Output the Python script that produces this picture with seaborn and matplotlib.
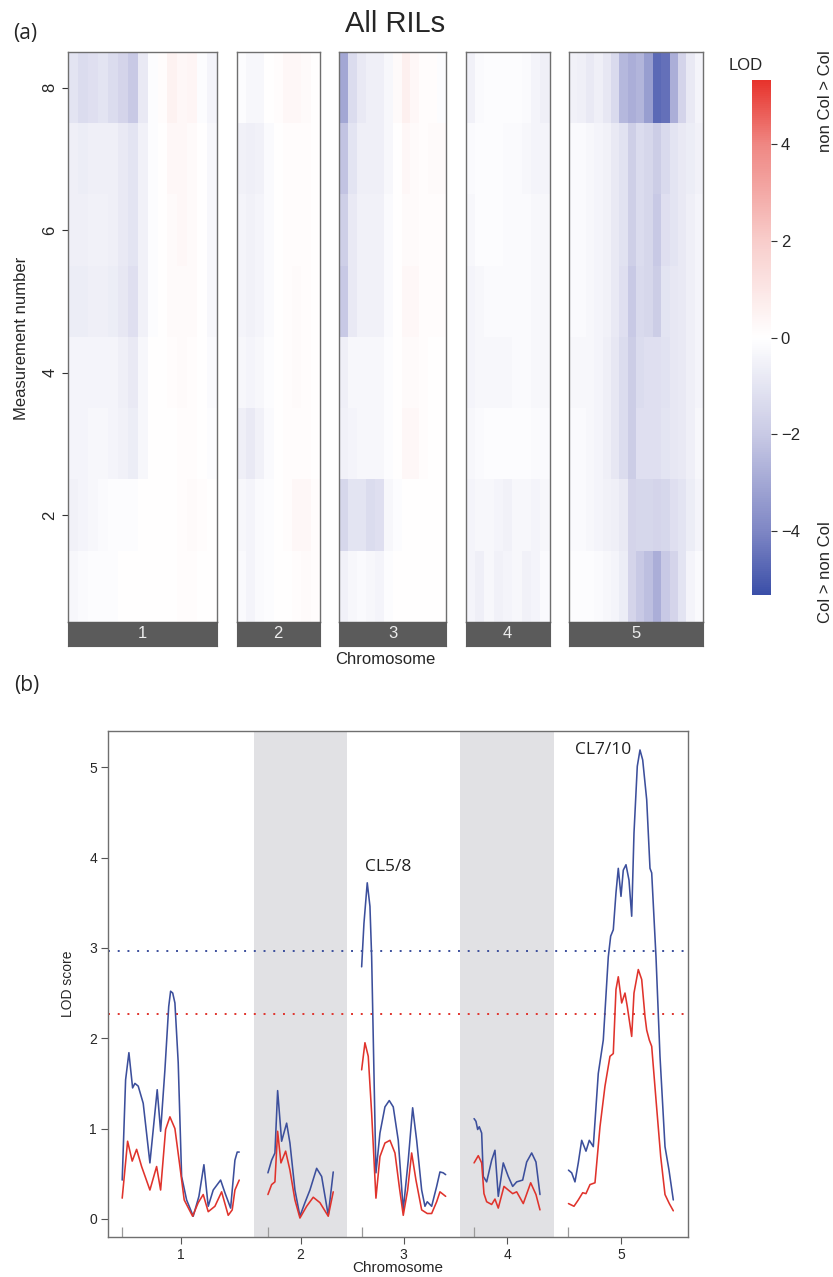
import numpy as np
import pandas as pd
import matplotlib
matplotlib.use("Agg")
import matplotlib.pyplot as plt
import seaborn as sns
from matplotlib.colors import LinearSegmentedColormap

# ---------------------------------------------------------------- data
chrom_names = ["1", "2", "3", "4", "5"]
chrom_len_cm = [117.3, 65.3, 84.0, 66.0, 105.3]
chrom_gap_cm = 28.4
measurement_numbers = [8, 7, 6, 5, 4, 3, 2, 1]   # heatmap rows, top to bottom

# signed LOD per measurement (rows 8..1) along each chromosome
heat_chr1 = [
    [-1.0, -1.3, -1.2, -1.0, -1.3, -1.6, -2.0, -0.8, -0.1, 0.1, 0.5, 0.3, 0.4, -0.1, -0.4],
    [-0.6, -0.7, -0.6, -0.6, -0.6, -0.8, -1.0, -0.5, -0.1, 0.0, 0.3, 0.3, 0.2, 0.0, -0.3],
    [-0.6, -0.6, -0.5, -0.5, -0.6, -0.8, -1.0, -0.5, -0.1, 0.0, 0.2, 0.3, 0.2, 0.0, -0.3],
    [-0.7, -0.7, -0.6, -0.6, -0.7, -0.9, -1.2, -0.5, -0.1, 0.0, 0.2, 0.2, 0.2, 0.0, -0.3],
    [-0.4, -0.4, -0.4, -0.4, -0.4, -0.6, -0.8, -0.3, 0.0, 0.0, 0.1, 0.2, 0.1, 0.0, -0.2],
    [-0.4, -0.4, -0.3, -0.3, -0.4, -0.5, -0.7, -0.3, 0.0, 0.0, 0.0, 0.1, 0.1, 0.0, -0.1],
    [-0.5, -0.4, -0.3, -0.2, -0.1, -0.1, -0.1, 0.0, 0.0, 0.0, 0.0, 0.1, 0.2, 0.1, 0.0],
    [-0.3, -0.2, -0.1, -0.1, -0.1, 0.0, 0.0, 0.0, 0.0, 0.0, 0.0, 0.1, 0.1, 0.0, 0.0],
]
heat_chr2 = [
    [-0.1, -0.3, -0.3, 0.0, 0.1, 0.3, 0.3, 0.2, 0.0],
    [-0.5, -0.6, -0.5, -0.2, 0.0, 0.1, 0.1, 0.1, 0.0],
    [-0.4, -0.5, -0.4, -0.2, 0.0, 0.1, 0.1, 0.1, 0.0],
    [-0.4, -0.5, -0.4, -0.2, 0.0, 0.1, 0.2, 0.1, 0.0],
    [-0.3, -0.4, -0.3, -0.1, 0.0, 0.1, 0.2, 0.1, 0.0],
    [-0.6, -0.8, -0.5, -0.2, 0.0, 0.1, 0.1, 0.1, 0.0],
    [-0.3, -0.4, -0.2, -0.1, 0.0, 0.1, 0.3, 0.3, 0.1],
    [-0.2, -0.4, -0.2, -0.1, 0.0, 0.0, 0.1, 0.2, 0.1],
]
heat_chr3 = [
    [-3.0, -1.3, -0.8, -0.6, -0.6, -0.3, 0.2, 0.6, 0.3, 0.1, 0.1, -0.1],
    [-2.2, -1.0, -0.6, -0.6, -0.6, -0.3, 0.0, 0.3, 0.2, 0.1, 0.2, 0.2],
    [-1.8, -0.8, -0.5, -0.5, -0.5, -0.2, 0.0, 0.2, 0.2, 0.1, 0.1, 0.1],
    [-2.0, -0.8, -0.5, -0.5, -0.5, -0.2, 0.0, 0.3, 0.3, 0.1, 0.1, 0.1],
    [-0.6, -0.3, -0.3, -0.3, -0.3, -0.1, 0.0, 0.2, 0.2, 0.1, 0.0, 0.0],
    [-0.5, -0.4, -0.3, -0.3, -0.3, -0.1, 0.0, 0.3, 0.3, 0.1, 0.0, 0.0],
    [-1.5, -1.0, -1.0, -1.3, -1.2, -0.3, -0.1, 0.0, 0.0, 0.0, 0.0, 0.0],
    [-0.5, -0.3, -0.2, -0.3, -0.4, -0.1, 0.0, 0.0, 0.0, 0.0, 0.0, 0.0],
]
heat_chr4 = [
    [-0.5, -0.2, -0.1, -0.1, -0.1, -0.1, -0.2, -0.4, -0.6],
    [-0.2, -0.1, -0.1, -0.1, -0.2, -0.2, -0.3, -0.4, -0.4],
    [-0.3, -0.1, -0.1, -0.1, -0.2, -0.2, -0.2, -0.3, -0.3],
    [-0.4, -0.3, -0.2, -0.2, -0.2, -0.2, -0.2, -0.3, -0.3],
    [-0.4, -0.3, -0.3, -0.3, -0.3, -0.2, -0.2, -0.3, -0.3],
    [-0.3, -0.2, -0.1, -0.1, -0.1, -0.1, -0.1, -0.2, -0.2],
    [-0.4, -0.3, -0.3, -0.4, -0.5, -0.3, -0.3, -0.4, -0.3],
    [-0.4, -0.6, -0.3, -0.5, -0.4, -0.3, -0.5, -0.4, -0.2],
]
heat_chr5 = [
    [-0.5, -0.6, -0.8, -0.6, -0.9, -1.4, -2.5, -2.8, -2.6, -3.3, -4.7, -4.5, -2.8, -1.6, -0.8, -0.4],
    [-0.2, -0.2, -0.3, -0.4, -0.5, -0.8, -1.1, -1.8, -1.3, -1.5, -1.9, -1.4, -1.0, -0.8, -0.7, -0.5],
    [-0.2, -0.2, -0.3, -0.4, -0.5, -0.8, -1.1, -1.8, -1.3, -1.5, -2.0, -1.2, -1.0, -0.8, -0.6, -0.4],
    [-0.2, -0.2, -0.3, -0.4, -0.5, -0.8, -1.2, -2.0, -1.4, -1.5, -1.9, -1.0, -0.9, -0.8, -0.6, -0.4],
    [-0.3, -0.3, -0.3, -0.4, -0.6, -0.9, -1.3, -1.9, -1.3, -1.2, -1.2, -1.1, -0.9, -0.8, -0.6, -0.4],
    [-0.2, -0.2, -0.3, -0.4, -0.6, -0.9, -1.3, -1.9, -1.2, -1.2, -1.2, -1.0, -0.9, -0.8, -0.6, -0.3],
    [-0.2, -0.2, -0.3, -0.4, -0.5, -0.6, -0.8, -1.6, -1.5, -1.5, -1.6, -1.5, -1.2, -1.0, -0.7, -0.4],
    [-0.1, -0.1, -0.1, -0.2, -0.3, -0.4, -0.7, -1.6, -2.0, -2.3, -2.8, -2.0, -1.6, -1.0, -0.4, -0.2],
]
heat_blocks = [heat_chr1, heat_chr2, heat_chr3, heat_chr4, heat_chr5]
lod_limit = 5.33
colorbar_ticks = [-4, -2, 0, 2, 4]

# LOD profiles: position within chromosome (cM) and LOD, for the two scans
chr1_pos_blue = [0.0, 3.4, 6.7, 10.4, 12.7, 16.0, 21.0, 27.7, 35.0, 38.4, 42.7, 46.5, 48.4, 50.5,
                 52.7, 56.0, 59.4, 64.4, 71.0, 76.7, 81.7, 86.0, 91.0, 98.4, 102.7, 108.4, 112.7, 115.0, 117.0]
chr1_lod_blue = [0.43, 1.54, 1.84, 1.45, 1.50, 1.47, 1.28, 0.62, 1.43, 0.97, 1.65, 2.35, 2.52, 2.50,
                 2.39, 1.73, 0.47, 0.21, 0.03, 0.25, 0.60, 0.14, 0.32, 0.43, 0.29, 0.12, 0.65, 0.74, 0.74]
chr1_pos_red = [0.0, 5.4, 10.0, 14.4, 19.4, 27.7, 34.4, 38.4, 43.4, 47.7, 52.7, 57.7, 62.0, 70.4,
                76.0, 81.0, 86.0, 92.7, 99.4, 106.0, 110.0, 112.7, 117.0]
chr1_lod_red = [0.23, 0.86, 0.64, 0.77, 0.58, 0.32, 0.58, 0.32, 0.99, 1.13, 1.00, 0.58, 0.21, 0.03,
                0.18, 0.27, 0.08, 0.14, 0.30, 0.04, 0.10, 0.32, 0.43]

chr2_pos_blue = [0.0, 3.7, 7.0, 9.7, 13.7, 18.7, 22.0, 27.0, 32.0, 37.0, 42.0, 48.7, 53.7, 60.3, 65.3]
chr2_lod_blue = [0.51, 0.65, 0.73, 1.42, 0.86, 1.06, 0.84, 0.32, 0.03, 0.18, 0.32, 0.56, 0.47, 0.04, 0.52]
chr2_pos_red = [0.0, 3.7, 7.0, 9.7, 13.0, 17.7, 22.0, 27.0, 32.0, 38.7, 45.3, 52.0, 60.3, 65.3]
chr2_lod_red = [0.27, 0.38, 0.41, 0.97, 0.62, 0.75, 0.54, 0.21, 0.01, 0.14, 0.24, 0.18, 0.03, 0.30]

chr3_pos_blue = [0.0, 2.3, 5.6, 8.3, 10.0, 14.3, 18.3, 23.3, 27.6, 31.6, 36.6, 41.6, 46.6, 51.0,
                 55.0, 60.0, 63.3, 65.6, 70.0, 75.0, 78.3, 81.6, 84.0]
chr3_lod_blue = [2.79, 3.27, 3.72, 3.46, 2.90, 0.51, 0.95, 1.24, 1.31, 1.24, 0.87, 0.10, 0.65, 1.23,
                 0.87, 0.32, 0.14, 0.19, 0.14, 0.36, 0.52, 0.51, 0.49]
chr3_pos_red = [0.0, 3.3, 6.6, 10.0, 14.3, 18.3, 23.3, 28.3, 33.3, 37.6, 41.6, 46.0, 50.0, 54.3,
                60.0, 65.6, 70.0, 75.0, 78.3, 84.0]
chr3_lod_red = [1.65, 1.95, 1.80, 1.17, 0.23, 0.69, 0.84, 0.87, 0.73, 0.36, 0.04, 0.32, 0.73, 0.43,
                0.10, 0.06, 0.06, 0.19, 0.30, 0.25]

chr4_pos_blue = [0.0, 1.9, 3.6, 5.2, 7.6, 9.2, 12.6, 17.6, 20.9, 24.2, 29.2, 34.2, 38.6, 42.6,
                 48.6, 52.6, 57.6, 61.9, 65.9]
chr4_lod_blue = [1.11, 1.08, 0.99, 1.02, 0.95, 0.47, 0.41, 0.65, 0.76, 0.25, 0.62, 0.47, 0.36, 0.41,
                 0.43, 0.63, 0.73, 0.63, 0.27]
chr4_pos_red = [0.0, 4.2, 7.6, 9.9, 12.6, 17.6, 20.9, 24.2, 29.9, 34.2, 38.6, 42.6, 49.2, 56.6, 61.9, 65.9]
chr4_lod_red = [0.62, 0.70, 0.62, 0.28, 0.19, 0.16, 0.22, 0.12, 0.36, 0.32, 0.28, 0.30, 0.17, 0.40, 0.27, 0.10]

chr5_pos_blue = [0.0, 3.2, 6.5, 9.8, 13.2, 17.5, 20.8, 24.8, 29.8, 34.8, 39.8, 42.2, 44.8, 47.5,
                 49.8, 52.5, 54.8, 57.5, 60.5, 63.2, 65.5, 68.8, 71.5, 74.2, 78.2, 81.5, 83.2,
                 87.5, 91.5, 96.5, 100.5, 104.8]
chr5_lod_blue = [0.54, 0.51, 0.41, 0.62, 0.87, 0.75, 0.87, 0.80, 1.61, 1.98, 2.90, 3.13, 3.20, 3.61,
                 3.88, 3.57, 3.86, 3.92, 3.75, 3.35, 4.27, 5.01, 5.19, 5.08, 4.64, 3.88, 3.83,
                 2.90, 1.80, 0.80, 0.54, 0.21]
chr5_pos_red = [0.0, 5.5, 9.8, 14.2, 17.5, 21.5, 26.5, 31.5, 36.5, 41.5, 44.8, 47.5, 49.8, 53.2,
                56.5, 58.8, 63.2, 65.5, 69.8, 73.2, 76.5, 78.2, 80.8, 83.2, 87.5, 92.2, 96.5, 100.8, 104.8]
chr5_lod_red = [0.17, 0.14, 0.21, 0.29, 0.28, 0.38, 0.40, 1.02, 1.47, 1.80, 1.83, 2.54, 2.68, 2.39,
                2.50, 2.35, 2.02, 2.50, 2.76, 2.65, 2.24, 2.09, 1.98, 1.91, 1.32, 0.69, 0.27, 0.17, 0.09]

threshold_blue = 2.97
threshold_red = 2.27
peak_labels = ["CL5/8", "CL7/10"]
peak_label_chrom = [3, 5]
peak_label_pos_cm = [26.3, 34.5]
peak_label_lod = [3.89, 5.19]

# ---------------------------------------------------------------- style
sns.set_style("white")
plt.rcParams["font.family"] = ["Liberation Sans", "DejaVu Sans"]
plt.rcParams["axes.unicode_minus"] = True

BLUE = "#3C4F9C"
RED = "#E0332C"
SPINE = "#6F6F6F"
lod_cmap = LinearSegmentedColormap.from_list(
    "lod",
    [(0.0, "#3B4FA8"), (0.125, "#7F87C5"), (0.3125, "#C9CAE5"), (0.5, "#FFFFFF"),
     (0.6875, "#F8CDCB"), (0.875, "#EF8783"), (1.0, "#E7332C")],
)

W, H = 833, 1277
fig = plt.figure(figsize=(W / 100, H / 100), dpi=100)


def fx(px):
    return px / W


def fy(py):
    return 1 - py / H


# ---------------------------------------------------------------- (a) heatmaps
panel_left, panel_gap, px_per_cm = 68.0, 19.5, 1.272
heat_top, heat_bottom, strip_bottom = 52.0, 622.0, 646.0
cbar_ax = fig.add_axes([fx(752), fy(595), fx(771) - fx(752), fy(80) - fy(595)])

x_cursor = panel_left
for i, (name, block, length) in enumerate(zip(chrom_names, heat_blocks, chrom_len_cm)):
    width_px = length * px_per_cm
    ax = fig.add_axes([fx(x_cursor), fy(heat_bottom), width_px / W, (heat_bottom - heat_top) / H])
    frame = pd.DataFrame(block, index=measurement_numbers)
    last = i == len(chrom_names) - 1
    sns.heatmap(frame, ax=ax, cmap=lod_cmap, vmin=-lod_limit, vmax=lod_limit,
                cbar=last, cbar_ax=cbar_ax if last else None,
                xticklabels=False, yticklabels=False)
    ax.set_xlabel("")
    ax.set_ylabel("")
    for sp in ax.spines.values():
        sp.set_visible(True)
        sp.set_color(SPINE)
        sp.set_linewidth(1.0)
    if i == 0:
        ticks = [m for m in measurement_numbers if m % 2 == 0]
        ax.set_yticks([measurement_numbers.index(m) + 0.5 for m in ticks])
        ax.set_yticklabels([str(m) for m in ticks], rotation=90, va="center", fontsize=12)
        ax.tick_params(axis="y", left=True, length=4.5, width=0.8, color="#333333", pad=3)
    else:
        ax.tick_params(left=False, bottom=False)

    strip = fig.add_axes([fx(x_cursor), fy(strip_bottom), width_px / W, (strip_bottom - heat_bottom) / H])
    strip.set_facecolor("#5B5B5B")
    strip.set_xticks([])
    strip.set_yticks([])
    for sp in strip.spines.values():
        sp.set_color("#5B5B5B")
    strip.text(0.5, 0.5, name, color="#EDEDED", fontsize=12, ha="center", va="center",
               transform=strip.transAxes)
    x_cursor += width_px + panel_gap

cb = cbar_ax.collections[0].colorbar if cbar_ax.collections else None
cbar_ax.set_yticks(colorbar_ticks)
cbar_ax.tick_params(labelsize=12, length=4, width=0.8, color="#333333", right=True, pad=3)
if cb is not None:
    cb.outline.set_linewidth(0.8)
    cb.outline.set_edgecolor("#888888")

fig.text(fx(25), fy(34), "(a)", fontsize=15, family=["Open Sans", "DejaVu Sans"], ha="center", va="center")
fig.text(fx(395), fy(24), "All RILs", fontsize=21, ha="center", va="center")
fig.text(fx(22), fy(338), "Measurement number", fontsize=12, rotation=90, ha="center", va="center")
fig.text(fx(385), fy(660), "Chromosome", fontsize=12, ha="center", va="center")
fig.text(fx(746), fy(66), "LOD", fontsize=12, ha="center", va="center")
fig.text(fx(825), fy(101), "non Col > Col", fontsize=12, rotation=90, ha="center", va="center")
fig.text(fx(825), fy(572), "Col > non Col", fontsize=12, rotation=90, ha="center", va="center")

# ---------------------------------------------------------------- (b) LOD profiles
offsets = np.concatenate([[0.0], np.cumsum(np.array(chrom_len_cm[:-1]) + chrom_gap_cm)])
profiles = {
    "blue": [(chr1_pos_blue, chr1_lod_blue), (chr2_pos_blue, chr2_lod_blue), (chr3_pos_blue, chr3_lod_blue),
             (chr4_pos_blue, chr4_lod_blue), (chr5_pos_blue, chr5_lod_blue)],
    "red": [(chr1_pos_red, chr1_lod_red), (chr2_pos_red, chr2_lod_red), (chr3_pos_red, chr3_lod_red),
            (chr4_pos_red, chr4_lod_red), (chr5_pos_red, chr5_lod_red)],
}
rows = []
for scan, segs in profiles.items():
    for c, (pos, lod) in enumerate(segs):
        for p, v in zip(pos, lod):
            rows.append({"scan": scan, "chrom": chrom_names[c], "pos": offsets[c] + p, "lod": v})
lod_df = pd.DataFrame(rows)

axb = fig.add_axes([fx(108), fy(1237), fx(688) - fx(108), fy(731) - fy(1237)])
total = offsets[-1] + chrom_len_cm[-1]
axb.set_xlim(-chrom_gap_cm / 2, total + chrom_gap_cm / 2)
axb.set_ylim(-0.2, 5.4)

for c in (1, 3):
    axb.axvspan(offsets[c] - chrom_gap_cm / 2, offsets[c] + chrom_len_cm[c] + chrom_gap_cm / 2,
                color="#E1E1E4", lw=0, zorder=0)

axb.axhline(threshold_blue, color=BLUE, lw=1.4, ls=(0, (1, 4)), zorder=1)
axb.axhline(threshold_red, color=RED, lw=1.4, ls=(0, (1, 4)), zorder=1)

sns.lineplot(data=lod_df, x="pos", y="lod", hue="scan", units="chrom", estimator=None,
             palette={"blue": BLUE, "red": RED}, hue_order=["blue", "red"], sort=False,
             legend=False, lw=1.15, ax=axb, zorder=3)

for lab, c, p, v in zip(peak_labels, peak_label_chrom, peak_label_pos_cm, peak_label_lod):
    axb.text(offsets[c - 1] + p, v, lab, fontsize=12.5, family=["Open Sans", "DejaVu Sans"],
             color="#222222", ha="center", va="center")

axb.set_xticks(offsets + np.array(chrom_len_cm) / 2)
axb.set_xticklabels(chrom_names)
axb.set_xticks(offsets, minor=True)
axb.set_yticks([0, 1, 2, 3, 4, 5])
axb.tick_params(axis="both", which="major", labelsize=10, length=5, width=0.8, color="#555555",
                direction="out", left=True, bottom=True, pad=3)
axb.tick_params(axis="x", which="minor", length=7, width=0.9, color="#9A9A9A", direction="in", bottom=True)
axb.set_xlabel("")
axb.set_ylabel("")
for sp in axb.spines.values():
    sp.set_visible(True)
    sp.set_color(SPINE)
    sp.set_linewidth(1.0)

fig.text(fx(27), fy(686), "(b)", fontsize=15, family=["Open Sans", "DejaVu Sans"], ha="center", va="center")
fig.text(fx(68), fy(984), "LOD score", fontsize=10, rotation=90, ha="center", va="center")
fig.text(fx(398), fy(1268), "Chromosome", fontsize=11, ha="center", va="center")

fig.savefig("out.png", dpi=100)
